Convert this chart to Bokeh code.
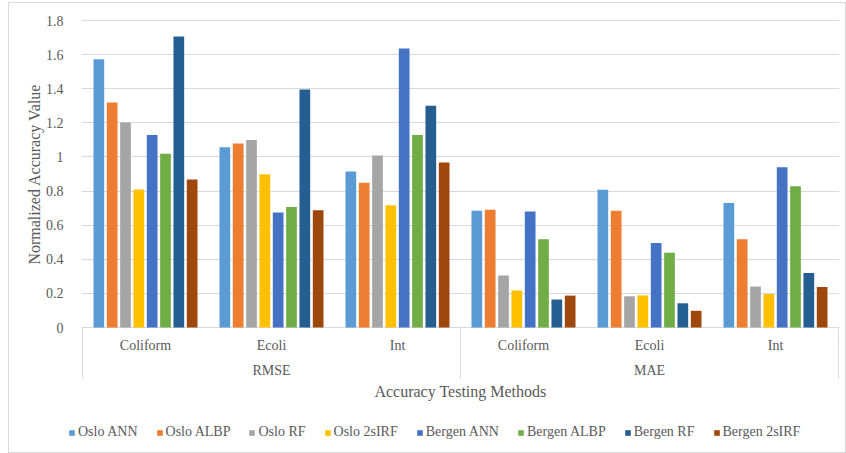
from bokeh.plotting import figure
from bokeh.models import (FactorRange, Range1d, Legend, LegendItem, FixedTicker,
                          ColumnDataSource)
from bokeh.layouts import column
from bokeh.core.properties import value
from bokeh.transform import dodge
from bokeh.embed import file_html
from bokeh.resources import INLINE

# ---- data ----
metrics = ["RMSE", "MAE"]
params = ["Coliform", "Ecoli", "Int"]
series = ["Oslo ANN", "Oslo ALBP", "Oslo RF", "Oslo 2sIRF",
          "Bergen ANN", "Bergen ALBP", "Bergen RF", "Bergen 2sIRF"]
colors = ["#5B9BD5", "#ED7D31", "#A5A5A5", "#FFC000",
          "#4472C4", "#70AD47", "#255E91", "#9E480E"]
# order: RMSE Coliform, RMSE Ecoli, RMSE Int, MAE Coliform, MAE Ecoli, MAE Int
oslo_ann = [1.573, 1.057, 0.915, 0.684, 0.808, 0.730]
oslo_albp = [1.319, 1.079, 0.848, 0.690, 0.685, 0.517]
oslo_rf = [1.202, 1.100, 1.008, 0.305, 0.183, 0.240]
oslo_2sirf = [0.809, 0.899, 0.717, 0.217, 0.188, 0.197]
bergen_ann = [1.128, 0.674, 1.636, 0.680, 0.496, 0.939]
bergen_albp = [1.018, 0.707, 1.128, 0.517, 0.438, 0.828]
bergen_rf = [1.706, 1.395, 1.300, 0.164, 0.142, 0.320]
bergen_2sirf = [0.868, 0.688, 0.967, 0.187, 0.098, 0.238]
y_ticks = [0, 0.2, 0.4, 0.6, 0.8, 1.0, 1.2, 1.4, 1.6, 1.8]
y_title = "Normalized Accuracy Value"
x_title = "Accuracy Testing Methods"

values = [oslo_ann, oslo_albp, oslo_rf, oslo_2sirf,
          bergen_ann, bergen_albp, bergen_rf, bergen_2sirf]
factors = [(m, c) for m in metrics for c in params]

# ---- layout (page pixels) ----
OX, OY = 9, 3             # content origin inside the chart border
W = 836                   # figure width
FL, FR = 81, 839          # plot frame left/right on the page
CATW = 126.0              # px per category
Y0, Y18 = 327, 20         # page px of y=0 and y=1.8
FB = 336                  # split between top and bottom figure (page px)
FT = Y18 - (FB - Y0)      # symmetric top so the y title stays centred
BOT = 452                 # bottom of content (page px)
LEG_X = 68                # legend left edge (page px)
YMAX = 1.8
NCAT = len(factors)
PAD = ((FR - FL) - NCAT * CATW) / 2 / CATW
FONT = "Liberation Serif"
TXT = "#595959"
GRID = "#d9d9d9"


def fy(py):
    return (Y0 - py) / ((Y0 - Y18) / YMAX)


def sx(px):
    return (px - FL) / CATW - PAD


# ---- top figure: bars, y axis, grid ----
p = figure(x_range=FactorRange(*factors, range_padding=PAD, range_padding_units="absolute",
                               group_padding=0, factor_padding=0),
           y_range=Range1d(fy(FB), fy(FT)), width=W, height=FB - OY,
           output_backend="svg", toolbar_location=None,
           min_border_left=FL - OX, min_border_right=W - (FR - OX),
           min_border_top=FT - OY, min_border_bottom=0)
p.outline_line_color = None

src = ColumnDataSource(dict(cat=factors, **{f"s{i}": v for i, v in enumerate(values)}))
stride = 0.1058
bw = 0.085
for i, name in enumerate(series):
    p.vbar(x=dodge("cat", (i - 3.5) * stride, range=p.x_range), top=f"s{i}", width=bw,
           source=src, fill_color=colors[i], line_color=None)

# category separators (upper part, below the zero line)
sep_x = [0, len(params), NCAT]
p.segment(x0=sep_x, y0=[0] * 3, x1=sep_x, y1=[fy(FB + 2)] * 3, line_color=GRID, line_width=1)

p.xaxis.visible = False
p.xgrid.visible = False
yax = p.yaxis[0]
yax.ticker = FixedTicker(ticks=y_ticks)
yax.axis_line_color = None
yax.major_tick_line_color = None
yax.minor_tick_line_color = None
yax.major_label_standoff = 12
yax.major_label_text_font = FONT
yax.major_label_text_font_size = "14px"
yax.major_label_text_color = TXT
yax.axis_label = y_title
yax.axis_label_text_font = FONT
yax.axis_label_text_font_size = "16px"
yax.axis_label_text_font_style = "normal"
yax.axis_label_text_color = TXT
yax.axis_label_standoff = 0
p.ygrid.grid_line_color = GRID
p.ygrid.grid_line_width = 1

# ---- bottom figure: category labels, separators, title, legend ----
free = "frame_align" in p.properties()
if free:
    p.frame_align = False
    q_left, q_right = OX, OX + W
    qb_left, qb_right = 0, 0
else:
    q_left, q_right = FL, FR
    qb_left, qb_right = FL - OX, W - (FR - OX)

q = figure(x_range=Range1d(sx(q_left), sx(q_right)), y_range=Range1d(BOT, FB),
           width=W, height=BOT - FB, output_backend="svg", toolbar_location=None,
           min_border_left=qb_left, min_border_right=qb_right,
           min_border_top=0, min_border_bottom=0)
if free:
    q.frame_align = False
q.axis.visible = False
q.grid.visible = False
q.outline_line_color = None

q.segment(x0=sep_x, y0=[FB - 2] * 3, x1=sep_x, y1=[378] * 3, line_color=GRID, line_width=1)

cat_src = ColumnDataSource(dict(x=[k + 0.5 for k in range(NCAT)], y=[344.5] * NCAT,
                                t=[c for _, c in factors]))
q.text(x="x", y="y", text="t", source=cat_src, text_align="center", text_baseline="middle",
       text_font=value(FONT), text_font_size="14px", text_color=TXT)
grp_src = ColumnDataSource(dict(x=[j * len(params) + len(params) / 2 for j in range(len(metrics))],
                                y=[369.5] * len(metrics), t=metrics))
q.text(x="x", y="y", text="t", source=grp_src, text_align="center", text_baseline="middle",
       text_font=value(FONT), text_font_size="14px", text_color=TXT)
q.text(x=[NCAT / 2], y=[391], text=[x_title], text_align="center", text_baseline="middle",
       text_font=value(FONT), text_font_size="16px", text_color=TXT)

items = []
for i, name in enumerate(series):
    r = q.vbar(x=[-50.0], top=[float("nan")], width=0.1, fill_color=colors[i], line_color=None)
    items.append(LegendItem(label=name, renderers=[r]))
legend = Legend(items=items, orientation="horizontal",
                location=(max(LEG_X, q_left + 1) - q_left, 12),
                glyph_width=7, glyph_height=7, label_standoff=3, spacing=18,
                label_text_font=FONT, label_text_font_size="14px", label_text_color=TXT,
                label_height=14, padding=0, margin=0,
                border_line_color=None, background_fill_alpha=0)
q.add_layout(legend)

layout = column(p, q, spacing=0, margin=(2, 0, 0, 8),
                styles={"border": "1px solid #d9d9d9"})

open("out.html", "w").write(file_html(layout, INLINE))
